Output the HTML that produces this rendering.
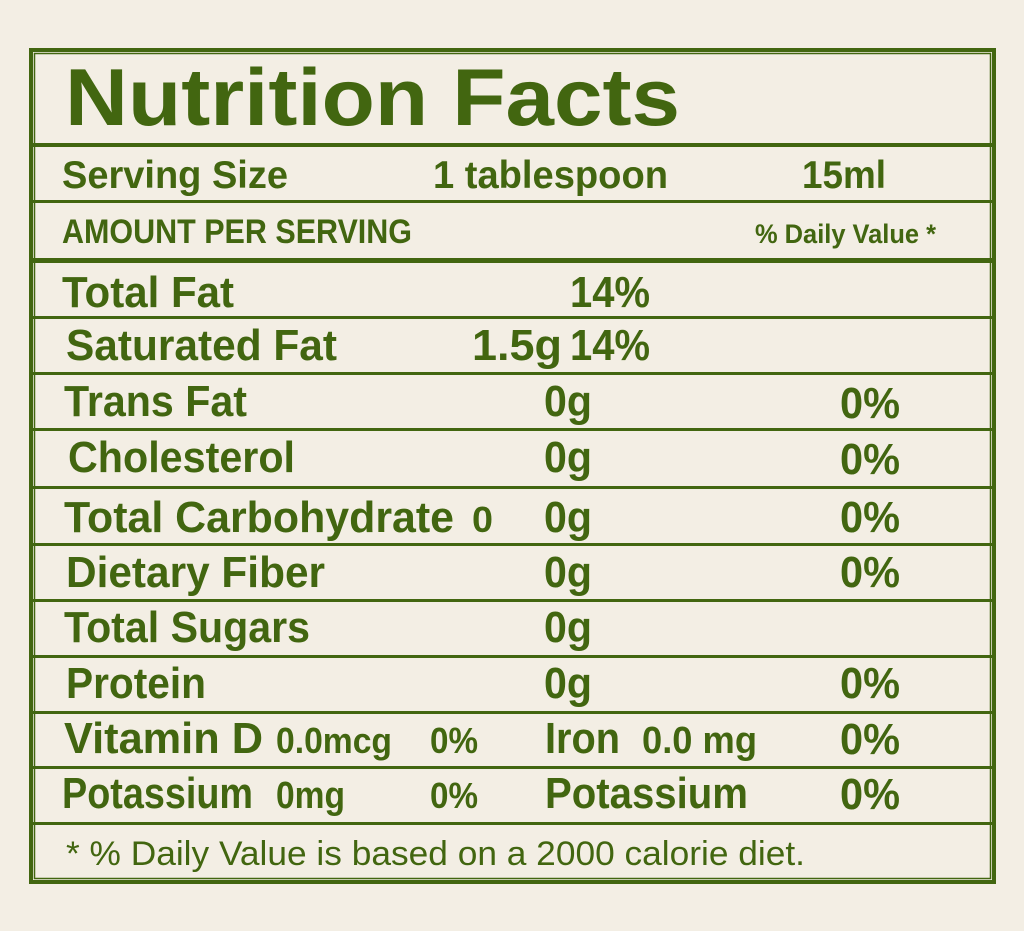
<!DOCTYPE html>
<html><head><meta charset="utf-8"><style>
html,body{margin:0;padding:0;background:#f3eee4;}
svg{display:block}
text{font-family:"Liberation Sans",sans-serif;fill:#426610;font-weight:bold}
</style></head><body>
<svg width="1024" height="931" viewBox="0 0 1024 931" xmlns="http://www.w3.org/2000/svg">
<rect x="0" y="0" width="1024" height="931" fill="#f3eee4"/>
<rect x="31" y="50" width="963" height="832" fill="none" stroke="#426610" stroke-width="4"/>
<rect x="34.5" y="53.5" width="956" height="825" fill="none" stroke="#426610" stroke-width="1.5"/>
<g fill="#426610">
<rect x="33" y="143" width="960" height="4"/>
<rect x="33" y="200" width="960" height="3"/>
<rect x="33" y="258" width="960" height="5"/>
<rect x="33" y="316" width="960" height="3"/>
<rect x="33" y="372" width="960" height="3"/>
<rect x="33" y="428" width="960" height="3"/>
<rect x="33" y="486" width="960" height="3"/>
<rect x="33" y="543" width="960" height="3"/>
<rect x="33" y="599" width="960" height="3"/>
<rect x="33" y="655" width="960" height="3"/>
<rect x="33" y="711" width="960" height="3"/>
<rect x="33" y="766" width="960" height="3"/>
<rect x="33" y="822" width="960" height="3"/>
</g>
<text x="65" y="125" font-size="81" textLength="615" lengthAdjust="spacingAndGlyphs">Nutrition Facts</text>
<text x="62" y="188" font-size="39" textLength="226" lengthAdjust="spacingAndGlyphs">Serving Size</text>
<text x="433" y="188" font-size="39" textLength="235" lengthAdjust="spacingAndGlyphs">1 tablespoon</text>
<text x="802" y="188" font-size="39" textLength="84" lengthAdjust="spacingAndGlyphs">15ml</text>
<text x="62" y="243" font-size="34" textLength="350" lengthAdjust="spacingAndGlyphs">AMOUNT PER SERVING</text>
<text x="755" y="243" font-size="27" textLength="181" lengthAdjust="spacingAndGlyphs">% Daily Value *</text>
<text x="62" y="307" font-size="44" textLength="172" lengthAdjust="spacingAndGlyphs">Total Fat</text>
<text x="570" y="307" font-size="44" textLength="80" lengthAdjust="spacingAndGlyphs">14%</text>
<text x="66" y="360" font-size="44" textLength="271" lengthAdjust="spacingAndGlyphs">Saturated Fat</text>
<text x="472" y="360" font-size="44" textLength="90" lengthAdjust="spacingAndGlyphs">1.5g</text>
<text x="570" y="360" font-size="44" textLength="80" lengthAdjust="spacingAndGlyphs">14%</text>
<text x="64" y="416" font-size="44" textLength="183" lengthAdjust="spacingAndGlyphs">Trans Fat</text>
<text x="68" y="472" font-size="44" textLength="227" lengthAdjust="spacingAndGlyphs">Cholesterol</text>
<text x="64" y="532" font-size="44" textLength="390" lengthAdjust="spacingAndGlyphs">Total Carbohydrate</text>
<text x="472" y="532" font-size="36" textLength="21" lengthAdjust="spacingAndGlyphs">0</text>
<text x="66" y="587" font-size="44" textLength="259" lengthAdjust="spacingAndGlyphs">Dietary Fiber</text>
<text x="64" y="642" font-size="44" textLength="246" lengthAdjust="spacingAndGlyphs">Total Sugars</text>
<text x="66" y="698" font-size="44" textLength="140" lengthAdjust="spacingAndGlyphs">Protein</text>
<text x="544" y="416" font-size="44" textLength="48" lengthAdjust="spacingAndGlyphs">0g</text>
<text x="544" y="472" font-size="44" textLength="48" lengthAdjust="spacingAndGlyphs">0g</text>
<text x="544" y="532" font-size="44" textLength="48" lengthAdjust="spacingAndGlyphs">0g</text>
<text x="544" y="587" font-size="44" textLength="48" lengthAdjust="spacingAndGlyphs">0g</text>
<text x="544" y="642" font-size="44" textLength="48" lengthAdjust="spacingAndGlyphs">0g</text>
<text x="544" y="698" font-size="44" textLength="48" lengthAdjust="spacingAndGlyphs">0g</text>
<text x="840" y="418" font-size="44" textLength="60" lengthAdjust="spacingAndGlyphs">0%</text>
<text x="840" y="474" font-size="44" textLength="60" lengthAdjust="spacingAndGlyphs">0%</text>
<text x="840" y="532" font-size="44" textLength="60" lengthAdjust="spacingAndGlyphs">0%</text>
<text x="840" y="587" font-size="44" textLength="60" lengthAdjust="spacingAndGlyphs">0%</text>
<text x="840" y="698" font-size="44" textLength="60" lengthAdjust="spacingAndGlyphs">0%</text>
<text x="840" y="754" font-size="44" textLength="60" lengthAdjust="spacingAndGlyphs">0%</text>
<text x="840" y="809" font-size="44" textLength="60" lengthAdjust="spacingAndGlyphs">0%</text>
<text x="64" y="753" font-size="44" textLength="199" lengthAdjust="spacingAndGlyphs">Vitamin D</text>
<text x="276" y="753" font-size="36" textLength="116" lengthAdjust="spacingAndGlyphs">0.0mcg</text>
<text x="430" y="753" font-size="36" textLength="48" lengthAdjust="spacingAndGlyphs">0%</text>
<text x="545" y="753" font-size="44" textLength="75" lengthAdjust="spacingAndGlyphs">Iron</text>
<text x="642" y="753" font-size="38" textLength="115" lengthAdjust="spacingAndGlyphs">0.0 mg</text>
<text x="62" y="808" font-size="44" textLength="191" lengthAdjust="spacingAndGlyphs">Potassium</text>
<text x="276" y="808" font-size="38" textLength="69" lengthAdjust="spacingAndGlyphs">0mg</text>
<text x="430" y="808" font-size="36" textLength="48" lengthAdjust="spacingAndGlyphs">0%</text>
<text x="545" y="808" font-size="44" textLength="203" lengthAdjust="spacingAndGlyphs">Potassium</text>
<text x="66" y="865" font-size="34" style="font-weight:normal" textLength="739" lengthAdjust="spacingAndGlyphs">* % Daily Value is based on a 2000 calorie diet.</text>
</svg>
</body></html>
